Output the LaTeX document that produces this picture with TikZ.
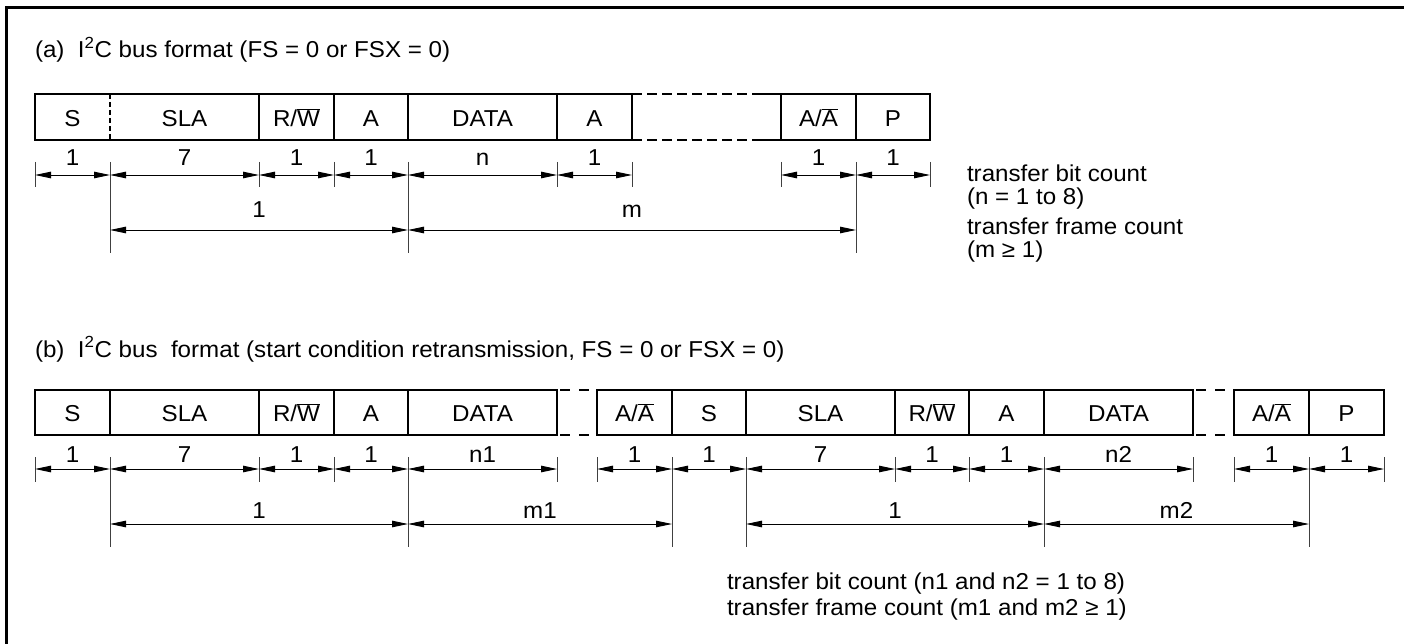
\documentclass[tikz,border=0pt]{standalone}
\usepackage{fontspec}
\setmainfont{Liberation Sans}[FakeStretch=1.05]
\usetikzlibrary{arrows.meta}
\begin{document}
\begin{tikzpicture}[x=1pt,y=-1pt,
  every node/.style={font=\fontsize{23}{26}\selectfont, inner sep=0pt, outer sep=0pt},
  cella/.style={draw, line width=1.3pt, minimum height=46pt, text height=19.5pt, text depth=0pt},
  cellb/.style={draw, line width=1.3pt, minimum height=45pt, text height=18.5pt, text depth=0pt},
  dimarr/.style={line width=0.9pt, {Triangle[length=16pt,width=6.5pt]}-{Triangle[length=16pt,width=6.5pt]}},
  tk/.style={line width=0.9pt, black!75},
  lab/.style={anchor=base, yshift=#1},
  txt/.style={anchor=base west}]
\useasboundingbox (0,0) rectangle (1404,644);
% frame
\draw[line width=3pt, line join=miter] (6.5,644) -- (6.5,7.5) -- (1404,7.5);

% ---------------- (a) ----------------
\node[txt] (ta) at (35,58) {(a)\ \ I\textsuperscript{2}C bus format (FS = 0 or FSX = 0)};

\node[cella, draw=none, minimum width=75pt] (aS) at (72.5,117) {S};
\node[cella, draw=none, minimum width=149pt] (aSLA) at (184.5,117) {SLA};
\node[cella, minimum width=75pt] (aRW) at (296.5,117) {R/$\overline{\hbox{W}}$};
\node[cella, minimum width=74pt] (aA1) at (371,117) {A};
\node[cella, minimum width=149pt] (aDATA) at (482.5,117) {DATA};
\node[cella, minimum width=75pt] (aA2) at (594.5,117) {A};
\node[cella, minimum width=75pt] (aAN) at (818.5,117) {A/$\overline{\hbox{A}}$};
\node[cella, minimum width=74pt] (aP) at (893,117) {P};
\draw[line width=1.3pt] (aS.north east) -- (aS.north west) -- (aS.south west) -- (aS.south east);
\draw[line width=1.3pt] (aSLA.north west) -- (aSLA.north east) (aSLA.south west) -- (aSLA.south east);
\draw[line width=1.1pt, dash pattern=on 5pt off 3pt] (aS.north east) -- (aS.south east);
\draw[line width=1.3pt] (aA2.north east) -- ++(10,0) coordinate (g1);
\draw[line width=1.3pt, dash pattern=on 10pt off 5pt, dash phase=-5pt] (g1) -- ++(110,0);
\draw[line width=1.3pt] (aAN.north west) -- ++(-29,0);
\draw[line width=1.3pt] (aA2.south east) -- ++(10,0) coordinate (g2);
\draw[line width=1.3pt, dash pattern=on 10pt off 5pt, dash phase=-5pt] (g2) -- ++(110,0);
\draw[line width=1.3pt] (aAN.south west) -- ++(-29,0);

% ticks (a)
\foreach \x in {35,259,334,557,632,781,930} \draw[tk] (\x,162) -- (\x,187);
\foreach \x in {110,408,856} \draw[tk] (\x,162) -- (\x,253);
\foreach \x in {35,110,259,334,408,557,632,781,856,930} \coordinate (ab\x) at (\x,175);
\foreach \x in {110,408,856} \coordinate (af\x) at (\x,230);

\draw[dimarr] (ab35) -- node[lab=9pt]{1} (ab110);
\draw[dimarr] (ab110) -- node[lab=9pt]{7} (ab259);
\draw[dimarr] (ab259) -- node[lab=9pt]{1} (ab334);
\draw[dimarr] (ab334) -- node[lab=9pt]{1} (ab408);
\draw[dimarr] (ab408) -- node[lab=9pt]{n} (ab557);
\draw[dimarr] (ab557) -- node[lab=9pt]{1} (ab632);
\draw[dimarr] (ab781) -- node[lab=9pt]{1} (ab856);
\draw[dimarr] (ab856) -- node[lab=9pt]{1} (ab930);
\draw[dimarr] (af110) -- node[lab=12pt]{1} (af408);
\draw[dimarr] (af408) -- node[lab=12pt]{m} (af856);

\node[txt] (na1) at (967,182) {transfer bit count};
\node[txt] (na2) at (967,205) {(n = 1 to 8)};
\node[txt] (na3) at (967,235) {transfer frame count};
\node[txt] (na4) at (967,258) {(m ≥ 1)};

% ---------------- (b) ----------------
\node[txt] (tb) at (35,357) {(b)\ \ I\textsuperscript{2}C bus\ \ format (start condition retransmission, FS = 0 or FSX = 0)};

\node[cellb, minimum width=75pt] (bS) at (72.5,412.5) {S};
\node[cellb, minimum width=149pt] (bSLA) at (184.5,412.5) {SLA};
\node[cellb, minimum width=75pt] (bRW) at (296.5,412.5) {R/$\overline{\hbox{W}}$};
\node[cellb, minimum width=74pt] (bA1) at (371,412.5) {A};
\node[cellb, minimum width=149pt] (bDATA) at (482.5,412.5) {DATA};
\node[cellb, minimum width=75pt] (bAN1) at (634.5,412.5) {A/$\overline{\hbox{A}}$};
\node[cellb, minimum width=74pt] (bS2) at (709,412.5) {S};
\node[cellb, minimum width=149pt] (bSLA2) at (820.5,412.5) {SLA};
\node[cellb, minimum width=74pt] (bRW2) at (932,412.5) {R/$\overline{\hbox{W}}$};
\node[cellb, minimum width=75pt] (bA2) at (1006.5,412.5) {A};
\node[cellb, minimum width=149pt] (bDATA2) at (1118.5,412.5) {DATA};
\node[cellb, minimum width=75pt] (bAN2) at (1271.5,412.5) {A/$\overline{\hbox{A}}$};
\node[cellb, minimum width=75pt] (bP) at (1346.5,412.5) {P};
\draw[line width=1.3pt, dash pattern=on 10pt off 9pt] ([xshift=3pt]bDATA.north east) -- (bAN1.north west);
\draw[line width=1.3pt, dash pattern=on 10pt off 9pt] ([xshift=3pt]bDATA.south east) -- (bAN1.south west);
\draw[line width=1.3pt, dash pattern=on 10pt off 9pt] ([xshift=3pt]bDATA2.north east) -- (bAN2.north west);
\draw[line width=1.3pt, dash pattern=on 10pt off 9pt] ([xshift=3pt]bDATA2.south east) -- (bAN2.south west);

% ticks (b)
\foreach \x in {35,259,334,557,597,895,969,1193,1234,1384} \draw[tk] (\x,457) -- (\x,482);
\foreach \x in {110,408,672,746,1044,1309} \draw[tk] (\x,457) -- (\x,547);
\foreach \x in {35,110,259,334,408,557,597,672,746,895,969,1044,1193,1234,1309,1384} \coordinate (bb\x) at (\x,469);
\foreach \x in {110,408,672,746,1044,1309} \coordinate (bf\x) at (\x,524);

\draw[dimarr] (bb35) -- node[lab=7pt]{1} (bb110);
\draw[dimarr] (bb110) -- node[lab=7pt]{7} (bb259);
\draw[dimarr] (bb259) -- node[lab=7pt]{1} (bb334);
\draw[dimarr] (bb334) -- node[lab=7pt]{1} (bb408);
\draw[dimarr] (bb408) -- node[lab=7pt]{n1} (bb557);
\draw[dimarr] (bb597) -- node[lab=7pt]{1} (bb672);
\draw[dimarr] (bb672) -- node[lab=7pt]{1} (bb746);
\draw[dimarr] (bb746) -- node[lab=7pt]{7} (bb895);
\draw[dimarr] (bb895) -- node[lab=7pt]{1} (bb969);
\draw[dimarr] (bb969) -- node[lab=7pt]{1} (bb1044);
\draw[dimarr] (bb1044) -- node[lab=7pt]{n2} (bb1193);
\draw[dimarr] (bb1234) -- node[lab=7pt]{1} (bb1309);
\draw[dimarr] (bb1309) -- node[lab=7pt]{1} (bb1384);
\draw[dimarr] (bf110) -- node[lab=6pt]{1} (bf408);
\draw[dimarr] (bf408) -- node[lab=6pt]{m1} (bf672);
\draw[dimarr] (bf746) -- node[lab=6pt]{1} (bf1044);
\draw[dimarr] (bf1044) -- node[lab=6pt]{m2} (bf1309);

\node[txt] (nb1) at (727,589) {transfer bit count (n1 and n2 = 1 to 8)};
\node[txt] (nb2) at (727,615) {transfer frame count (m1 and m2 ≥ 1)};
\end{tikzpicture}
\end{document}
